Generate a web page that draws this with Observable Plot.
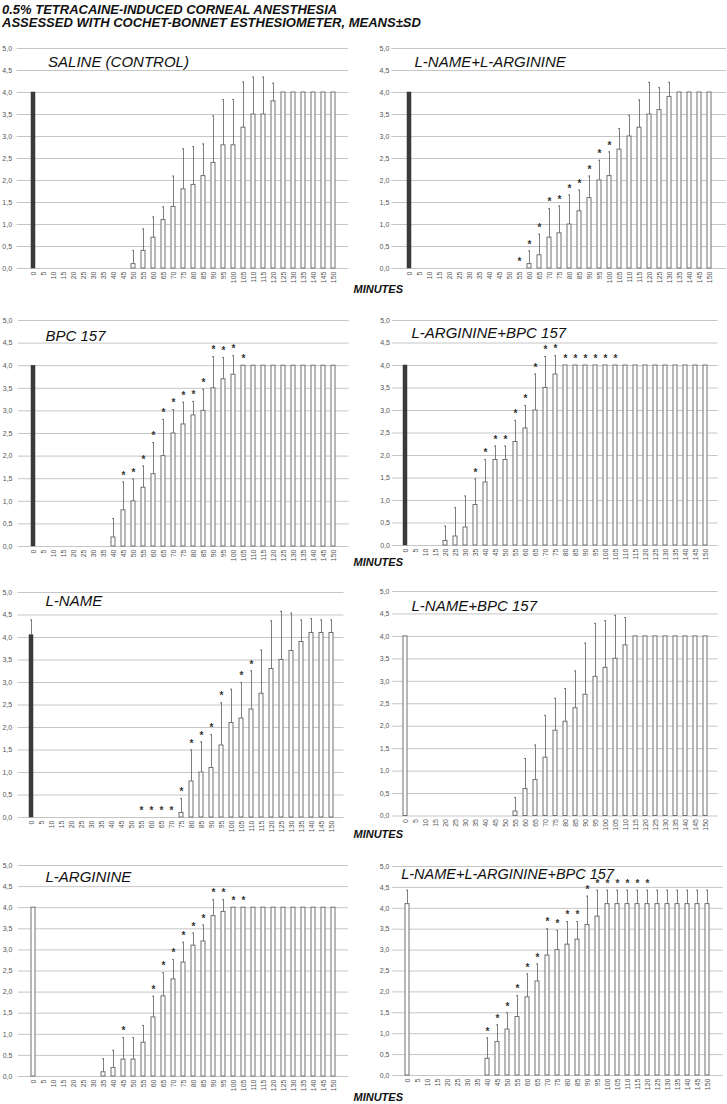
<!DOCTYPE html>
<html><head><meta charset="utf-8">
<script src="https://cdn.jsdelivr.net/npm/d3@7"></script>
<script src="https://cdn.jsdelivr.net/npm/@observablehq/plot@0.6"></script>
<style>
body{margin:0;background:#fff;}
#root{position:relative;width:727px;height:1104px;overflow:hidden;font-family:"Liberation Sans",Arial,sans-serif;background:#fff;}
.panel{position:absolute;}
.head{position:absolute;left:2px;top:3px;font-size:13px;line-height:13px;font-weight:bold;font-style:italic;white-space:nowrap;color:#111;}
.minutes{position:absolute;font-size:11px;line-height:11px;font-weight:bold;font-style:italic;color:#111;white-space:nowrap;}
</style></head><body><div id="root"></div>
<script>
const minutes = [0,5,10,15,20,25,30,35,40,45,50,55,60,65,70,75,80,85,90,95,100,105,110,115,120,125,130,135,140,145,150];
const yTicks = [0,0.5,1,1.5,2,2.5,3,3.5,4,4.5,5];
const titles = ["SALINE (CONTROL)","L-NAME+L-ARGININE","BPC 157","L-ARGININE+BPC 157","L-NAME","L-NAME+BPC 157","L-ARGININE","L-NAME+L-ARGININE+BPC 157"];
const darkBaseline = ["SALINE (CONTROL)","L-NAME+L-ARGININE","BPC 157","L-ARGININE+BPC 157","L-NAME"];

const salineMean = [4,0,0,0,0,0,0,0,0,0,0.1,0.4,0.7,1.1,1.4,1.8,1.9,2.1,2.4,2.8,2.8,3.2,3.5,3.5,3.8,4,4,4,4,4,4];
const salineSD   = [0,0,0,0,0,0,0,0,0,0,0.31,0.5,0.47,0.3,0.7,0.92,0.87,0.73,1.07,1.04,1.04,1.04,0.85,0.85,0.41,0,0,0,0,0,0];
const salineStars = [];

const nameArgMean = [4,0,0,0,0,0,0,0,0,0,0,0,0.1,0.3,0.7,0.8,1.0,1.3,1.6,2.0,2.1,2.7,3.0,3.2,3.5,3.6,3.9,4,4,4,4];
const nameArgSD   = [0,0,0,0,0,0,0,0,0,0,0,0,0.3,0.48,0.66,0.62,0.67,0.48,0.5,0.46,0.55,0.48,0.48,0.63,0.73,0.51,0.33,0,0,0,0];
const nameArgStars = [55,60,65,70,75,80,85,90,95,100];

const bpcMean = [4,0,0,0,0,0,0,0,0.2,0.8,1.0,1.3,1.6,2.0,2.5,2.7,2.9,3.0,3.5,3.7,3.8,4,4,4,4,4,4,4,4,4,4];
const bpcSD   = [0,0,0,0,0,0,0,0,0.42,0.63,0.49,0.48,0.7,0.81,0.53,0.49,0.31,0.48,0.7,0.48,0.42,0,0,0,0,0,0,0,0,0,0];
const bpcStars = [45,50,55,60,65,70,75,80,85,90,95,100,105];

const argBpcMean = [4,0,0,0,0.1,0.2,0.4,0.9,1.4,1.9,1.9,2.3,2.6,3.0,3.5,3.8,4,4,4,4,4,4,4,4,4,4,4,4,4,4,4];
const argBpcSD   = [0,0,0,0,0.33,0.64,0.7,0.58,0.51,0.31,0.31,0.48,0.51,0.81,0.7,0.42,0,0,0,0,0,0,0,0,0,0,0,0,0,0,0];
const argBpcStars = [35,40,45,50,55,60,65,70,75,80,85,90,95,100,105];

const nameMean = [4.05,0,0,0,0,0,0,0,0,0,0,0,0,0,0,0.1,0.8,1.0,1.1,1.6,2.1,2.2,2.4,2.75,3.3,3.5,3.7,3.9,4.1,4.1,4.1];
const nameSD   = [0.34,0,0,0,0,0,0,0,0,0,0,0,0,0,0,0.32,0.7,0.68,0.74,0.95,0.75,0.8,0.86,0.97,1.07,1.08,0.84,0.49,0.32,0.29,0.29];
const nameStars = [55,60,65,70,75,80,85,90,95,105,110];

const nameBpcMean = [4,0,0,0,0,0,0,0,0,0,0,0.1,0.6,0.8,1.3,1.9,2.1,2.4,2.7,3.1,3.3,3.5,3.8,4,4,4,4,4,4,4,4];
const nameBpcSD   = [0,0,0,0,0,0,0,0,0,0,0,0.31,0.68,0.78,0.94,0.72,0.74,0.83,1.15,1.19,1.05,0.97,0.62,0,0,0,0,0,0,0,0];
const nameBpcStars = [];

const argMean = [4,0,0,0,0,0,0,0.1,0.2,0.4,0.4,0.8,1.4,1.9,2.3,2.7,3.1,3.2,3.8,3.9,4,4,4,4,4,4,4,4,4,4,4];
const argSD   = [0,0,0,0,0,0,0,0.32,0.42,0.52,0.52,0.41,0.5,0.56,0.47,0.48,0.3,0.39,0.39,0.29,0,0,0,0,0,0,0,0,0,0,0];
const argStars = [45,60,65,70,75,80,85,90,95,100,105];

const allMean = [4.1,0,0,0,0,0,0,0,0.4,0.8,1.1,1.4,1.87,2.25,2.87,3.0,3.13,3.25,3.6,3.8,4.1,4.1,4.1,4.1,4.1,4.1,4.1,4.1,4.1,4.1,4.1];
const allSD   = [0.33,0,0,0,0,0,0,0,0.5,0.41,0.4,0.51,0.56,0.42,0.64,0.47,0.55,0.43,0.69,0.63,0.33,0.33,0.33,0.33,0.33,0.33,0.33,0.33,0.33,0.33,0.33];
const allStars = [40,45,50,55,60,65,70,75,80,85,90,95,100,105,110,115,120];

const series = [
  [salineMean, salineSD, salineStars],
  [nameArgMean, nameArgSD, nameArgStars],
  [bpcMean, bpcSD, bpcStars],
  [argBpcMean, argBpcSD, argBpcStars],
  [nameMean, nameSD, nameStars],
  [nameBpcMean, nameBpcSD, nameBpcStars],
  [argMean, argSD, argStars],
  [allMean, allSD, allStars]
];

// layout: left, top, width, height, margins, y tick padding, title offset / size
const layout = [
  {l:0,   t:36,    w:364, h:257,   ml:16.6, mr:15.6, tp:5,   tx:31,   ty:14,   fs:15},
  {l:364, t:36,    w:363, h:257,   ml:27.3, mr:1,    tp:2.5, tx:22.7, ty:14,   fs:15},
  {l:0,   t:308,   w:364, h:263,   ml:18,   mr:15.3, tp:6,   tx:27,   ty:16,   fs:15},
  {l:364, t:308,   w:363, h:262,   ml:28,   mr:9.4,  tp:2.5, tx:19,   ty:12.5, fs:15},
  {l:0,   t:579.5, w:364, h:262,   ml:17.5, mr:20.5, tp:5.8, tx:27.5, ty:9,    fs:15},
  {l:364, t:578.5, w:363, h:261.5, ml:28,   mr:9.4,  tp:3,   tx:19,   ty:15,   fs:15},
  {l:0,   t:853,   w:364, h:248,   ml:18,   mr:16,   tp:6,   tx:27,   ty:12,   fs:15},
  {l:364, t:854,   w:363, h:246,   ml:28,   mr:4.4,  tp:3,   tx:8.7,  ty:7.5,  fs:14.5}
];

const root = document.getElementById("root");
const head = document.createElement("div");
head.className = "head";
head.innerHTML = "0.5% TETRACAINE-INDUCED CORNEAL ANESTHESIA<br>ASSESSED WITH COCHET-BONNET ESTHESIOMETER, MEANS±SD";
root.appendChild(head);

const fmt = d => d.toFixed(1).replace(".", ",");
const lineColor = "#707070";

titles.forEach((title, k) => {
  const [mean, sd, stars] = series[k];
  const L = layout[k];
  const dark = darkBaseline.includes(title);
  const rows = minutes.map((m, i) => ({m, mean: mean[i], sd: sd[i], star: stars.includes(m)}));
  const chart = Plot.plot({
    width: L.w, height: L.h,
    marginLeft: L.ml, marginRight: L.mr, marginTop: 12, marginBottom: 25,
    x: {type: "band", domain: minutes, paddingInner: 0.62, paddingOuter: 0.31, label: null},
    y: {domain: [0, 5], label: null},
    style: {fontFamily: "'Liberation Sans', Arial, sans-serif", background: "transparent", color: "#555", overflow: "visible"},
    marks: [
      Plot.gridY(yTicks, {stroke: "#c6c6c6", strokeOpacity: 1, strokeWidth: 1}),
      Plot.axisY(yTicks, {tickSize: 0, tickPadding: L.tp, tickFormat: fmt, fontSize: 7, fill: "#555", label: null}),
      Plot.axisX({tickRotate: -90, tickSize: 0, tickPadding: 3, fontSize: 7, fill: "#555", label: null}),
      Plot.barY(rows.filter(d => d.mean > 0), {
        x: "m", y: "mean",
        fill: d => (dark && d.m === 0) ? "#3a3a3a" : "white",
        stroke: d => (dark && d.m === 0) ? "#3a3a3a" : lineColor,
        strokeWidth: d => (dark && d.m === 0) ? 0.5 : 1
      }),
      Plot.ruleX(rows.filter(d => d.sd > 0), {x: "m", y1: "mean", y2: d => d.mean + d.sd, stroke: lineColor, strokeWidth: 0.9}),
      Plot.tickY(rows.filter(d => d.sd > 0), {x: "m", y: d => d.mean + d.sd, stroke: lineColor, strokeWidth: 0.9, insetLeft: 1, insetRight: 1}),
      Plot.text(rows.filter(d => d.star), {x: "m", y: d => d.mean + d.sd, text: () => "*", dy: -6.5, fontSize: 10, fontWeight: "bold", fill: "#333"}),
      Plot.text([title], {text: d => d, frameAnchor: "top-left", dx: L.tx, dy: L.ty, textAnchor: "start", lineAnchor: "middle", fontSize: L.fs, fontStyle: "italic", fill: "#111"})
    ]
  });
  const wrap = document.createElement("div");
  wrap.className = "panel";
  wrap.style.left = L.l + "px";
  wrap.style.top = L.t + "px";
  wrap.appendChild(chart);
  root.appendChild(wrap);
});

const minuteRows = [289, 562, 834, 1097];
minuteRows.forEach(cy => {
  const s = document.createElement("div");
  s.className = "minutes";
  s.textContent = "MINUTES";
  s.style.left = "353.5px";
  s.style.top = (cy - 5.4) + "px";
  root.appendChild(s);
});
</script>
</body></html>
